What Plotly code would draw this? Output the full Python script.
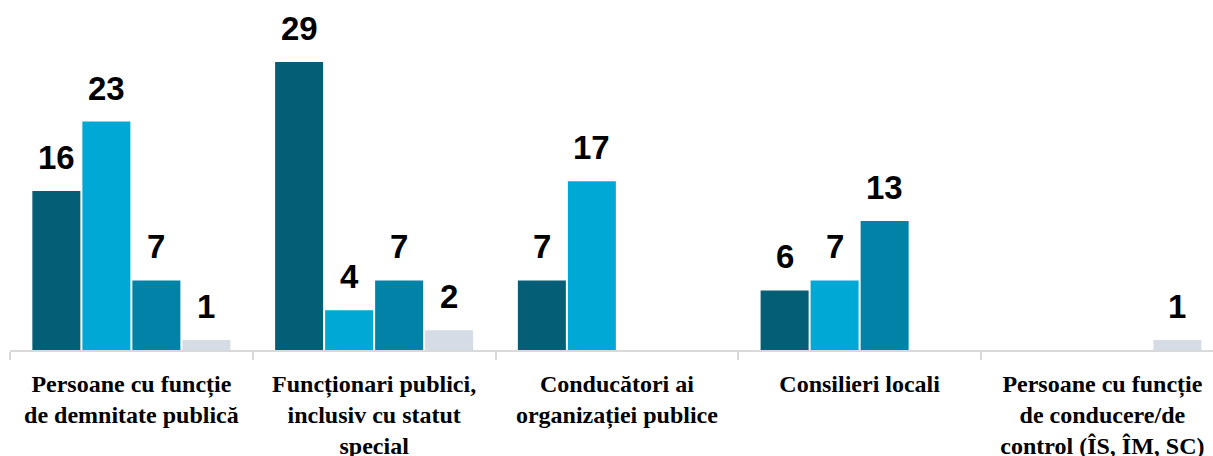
import plotly.graph_objects as go

categories = [
    "Persoane cu funcție<br>de demnitate publică",
    "Funcționari publici,<br>inclusiv cu statut<br>special",
    "Conducători ai<br>organizației publice",
    "Consilieri locali",
    "Persoane cu funcție<br>de conducere/de<br>control (ÎS, ÎM, SC)",
]
series_names = ["Seria 1", "Seria 2", "Seria 3", "Seria 4"]
values_s1 = [16, 29, 7, 6, None]
values_s2 = [23, 4, 17, 7, None]
values_s3 = [7, 7, None, 13, None]
values_s4 = [1, 2, None, None, 1]
colors = ["#035E76", "#00A8D6", "#0083A7", "#D6DCE5"]

all_values = [values_s1, values_s2, values_s3, values_s4]

BARGAP = 0.176
GROUPGAP = 0.04
n_series = len(all_values)

fig = go.Figure()
for name, vals, col in zip(series_names, all_values, colors):
    fig.add_trace(go.Bar(
        x=list(range(len(categories))), y=vals, name=name,
        marker=dict(color=col, line=dict(width=0)),
        hoverinfo="skip",
    ))

# value labels above bars, positioned in data coordinates
slot = (1 - BARGAP) / n_series
annotations = []
for j, vals in enumerate(all_values):
    for i, v in enumerate(vals):
        if v is None:
            continue
        xpos = i - (1 - BARGAP) / 2 + slot * (j + 0.5)
        annotations.append(dict(
            x=xpos, y=v, xref="x", yref="y", text=f"<b>{v}</b>", showarrow=False,
            yanchor="bottom", yshift=13,
            font=dict(family="Liberation Sans", size=33, color="#000000"),
        ))

plot_w = 1213 - 10
cat_px = 242.75
fig.update_layout(
    template="none",
    width=1213, height=456,
    margin=dict(l=10, r=0, t=0, b=106, autoexpand=False),
    paper_bgcolor="white", plot_bgcolor="white",
    barmode="group", bargap=BARGAP, bargroupgap=GROUPGAP,
    showlegend=False,
    annotations=annotations,
    xaxis=dict(
        tickmode="array",
        tickvals=list(range(len(categories))),
        ticktext=[f"<b>{c}</b>" for c in categories],
        range=[-0.5, -0.5 + plot_w / cat_px],
        showline=True, linecolor="#D9D9D9", linewidth=2,
        ticks="", showgrid=False, zeroline=False, automargin=False,
        tickfont=dict(family="Times New Roman, serif", size=24, color="#000000"),
        ticklabelstandoff=11,
        minor=dict(ticks="outside", ticklen=8, tickwidth=2, tickcolor="#D9D9D9",
                   tickmode="array", tickvals=[-0.5, 0.5, 1.5, 2.5, 3.5], showgrid=False),
    ),
    yaxis=dict(visible=False, range=[0, 350 / 9.93], automargin=False),
)

fig.write_html("out.html", config={"displayModeBar": False},
               post_script="document.body.style.margin='0';document.body.style.overflow='hidden';")
